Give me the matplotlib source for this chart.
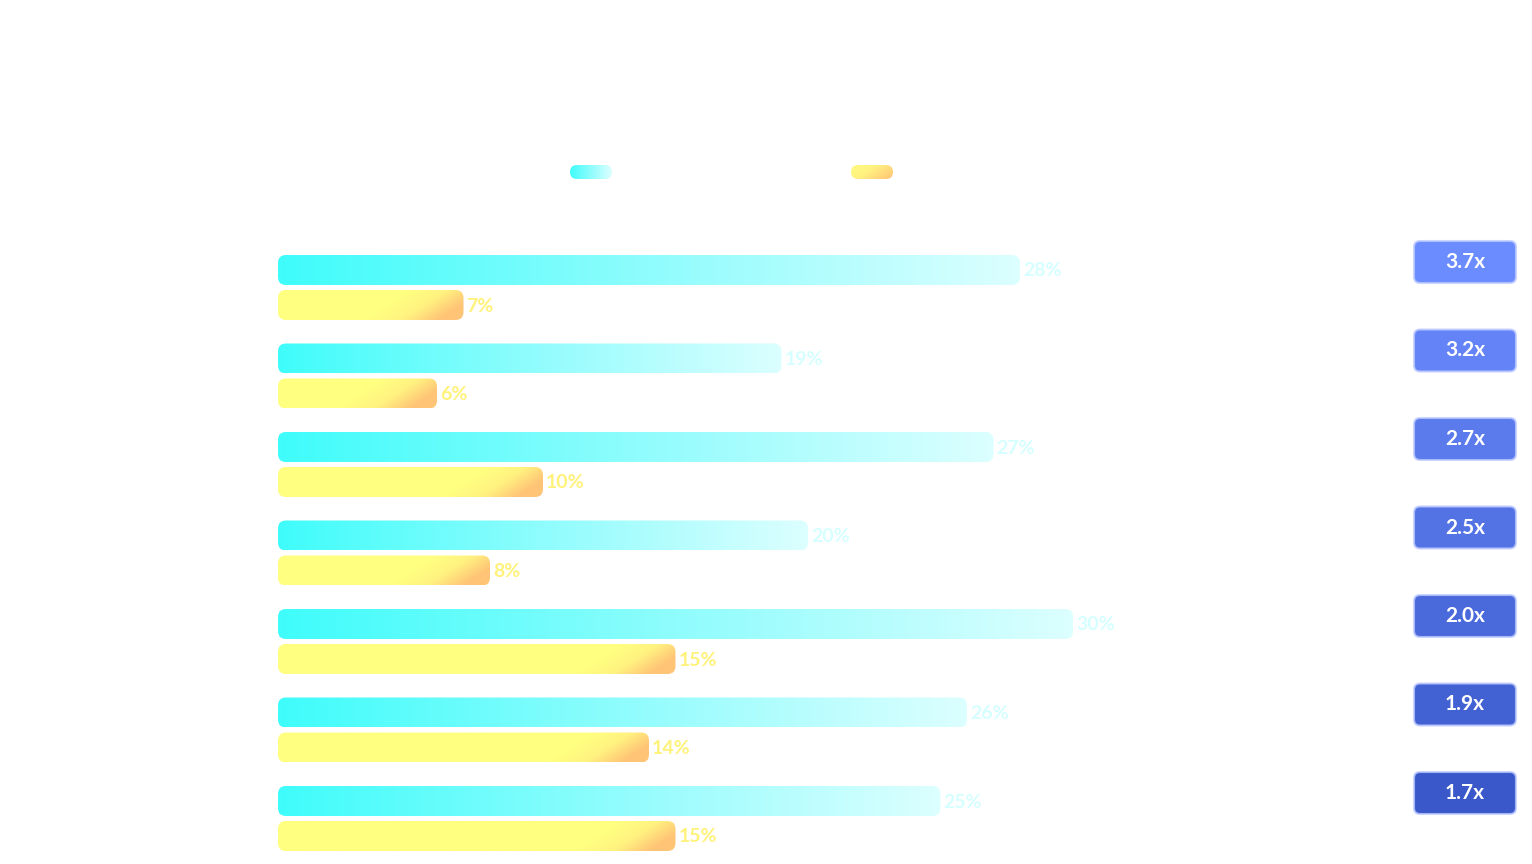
import numpy as np
import matplotlib.pyplot as plt
from matplotlib.patches import FancyBboxPatch
from matplotlib.colors import LinearSegmentedColormap

cyan_vals = [28, 19, 27, 20, 30, 26, 25]
yellow_vals = [7, 6, 10, 8, 15, 14, 15]
ratios = ['3.7x', '3.2x', '2.7x', '2.5x', '2.0x', '1.9x', '1.7x']

W, H = 1532, 864
fig = plt.figure(figsize=(W / 100, H / 100), dpi=100)
ax = fig.add_axes([0, 0, 1, 1])
ax.set_xlim(0, W)
ax.set_ylim(H, 0)
ax.axis('off')

x0 = 278
px_per_pct = 26.5
row0, row_step, bh = 270, 88.5, 30

cyan_cm = LinearSegmentedColormap.from_list('c', ['#3ffdfb', '#8ffcfd', '#dcffff'])
yel_cm = LinearSegmentedColormap.from_list('y', ['#ffff80', '#ffff80', '#fff280', '#ffc476'])
blue_cm = LinearSegmentedColormap.from_list('b', ['#3a58c9', '#6b8cff'])


def grad_bar(x, y, w, h, cmap, diag=False, r=8):
    patch = FancyBboxPatch((x, y), w, h, boxstyle=f'round,pad=0,rounding_size={r}',
                           facecolor='none', edgecolor='none')
    ax.add_patch(patch)
    gx = np.linspace(0, 1, 200)
    if diag:
        gy = np.linspace(0, 1, 40)
        X, Y = np.meshgrid(gx, gy)
        img = np.clip((X * w + Y * h * 1.5 - (w - 90)) / 110, 0, 1)
    else:
        img = gx[None, :]
    im = ax.imshow(img, cmap=cmap, vmin=0, vmax=1, extent=(x, x + w, y + h, y),
                   aspect='auto', interpolation='bilinear')
    im.set_clip_path(patch)


font = dict(family=['Lato', 'DejaVu Sans'], fontweight='bold')
for i, (c, yv, rt) in enumerate(zip(cyan_vals, yellow_vals, ratios)):
    yc = row0 + i * row_step
    wc = c * px_per_pct
    grad_bar(x0, yc - bh / 2, wc, bh, cyan_cm)
    ax.text(x0 + wc + 3, yc + 1, f'{c}%', color='#d6ffff', fontsize=14, va='center', **font)
    yy = yc + 35
    wy = yv * px_per_pct
    grad_bar(x0, yy - bh / 2, wy, bh, yel_cm, diag=True)
    ax.text(x0 + wy + 3, yy + 1, f'{yv}%', color='#fff27a', fontsize=14, va='center', **font)
    # ratio badge
    t = 1 - i / (len(ratios) - 1)
    bc = blue_cm(t)
    ax.add_patch(FancyBboxPatch((1414, yc - 29), 102, 42,
                                boxstyle='round,pad=0,rounding_size=6',
                                facecolor=bc, edgecolor=(0.75, 0.8, 1, 0.8), lw=1.5))
    ax.text(1465, yc - 8, rt, color='white', fontsize=15, ha='center', va='center', **font)

# legend swatches
grad_bar(570, 165, 42, 14, cyan_cm, r=7)
grad_bar(851, 165, 42, 14, yel_cm, diag=True, r=7)

fig.savefig('out.png', dpi=100, facecolor='white')
